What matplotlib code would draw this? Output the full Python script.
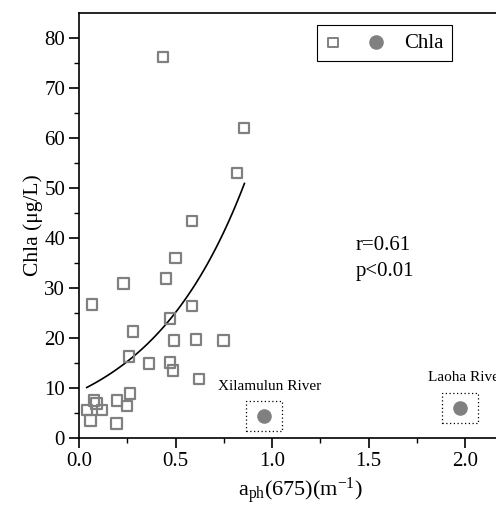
import numpy as np
import matplotlib
matplotlib.use("Agg")
import matplotlib.pyplot as plt
from matplotlib.legend_handler import HandlerTuple
from matplotlib.patches import Rectangle

plt.rcParams['font.family'] = ['Liberation Serif', 'DejaVu Serif']
plt.rcParams['mathtext.fontset'] = 'custom'
plt.rcParams['mathtext.rm'] = 'Liberation Serif'

# lake samples (open squares)
aph = [0.435, 0.855, 0.82, 0.585, 0.50, 0.45, 0.23, 0.067, 0.587, 0.47,
       0.281, 0.492, 0.606, 0.748, 0.259, 0.363, 0.47, 0.487, 0.623, 0.264,
       0.198, 0.249, 0.076, 0.09, 0.04, 0.12, 0.059, 0.195]
chla = [76.2, 62.0, 53.0, 43.4, 36.0, 31.9, 30.9, 26.7, 26.4, 23.9,
        21.3, 19.5, 19.7, 19.5, 16.3, 14.9, 15.1, 13.5, 11.8, 8.9,
        7.5, 6.4, 7.5, 6.9, 5.6, 5.6, 3.5, 2.9]

# river samples (filled circles)
river_names = ["Xilamulun River", "Laoha River"]
river_aph = [0.959, 1.974]
river_chla = [4.4, 6.1]

# exponential fit  chla = a * exp(b * aph)
fit_a, fit_b = 9.33, 1.98
fit_range = (0.04, 0.857)

gray = '#808080'

fig = plt.figure(figsize=(4.96, 5.07), dpi=100)
ax = fig.add_axes([79/496, 69/507, 444/496, 425/507])

ax.scatter(aph, chla, marker='s', s=55, facecolors='none', edgecolors=gray,
           linewidths=1.6, zorder=3)
ax.scatter(river_aph, river_chla, marker='o', s=90, color=gray, zorder=3)

xf = np.linspace(fit_range[0], fit_range[1], 100)
ax.plot(xf, fit_a * np.exp(fit_b * xf), color='black', lw=1.2, zorder=2)

# dotted boxes + labels for the rivers
for name, x, y in zip(river_names, river_aph, river_chla):
    ax.add_patch(Rectangle((x - 0.093, y - 3.0), 0.186, 6.0, fill=False,
                           ls=(0, (1, 2)), lw=0.9, color='black'))
    ax.text(x + 0.03, y + 6.0, name, ha='center', va='center', fontsize=11)

ax.text(1.435, 38.6, 'r=0.61', fontsize=15, va='center')
ax.text(1.435, 33.3, 'p<0.01', fontsize=15, va='center')

ax.set_xlim(0, 2.3)
ax.set_ylim(0, 85)
ax.set_xticks([0, 0.5, 1.0, 1.5, 2.0])
ax.set_xticks(np.arange(0.25, 2.3, 0.5), minor=True)
ax.set_yticks(range(0, 81, 10))
ax.set_yticks(range(5, 85, 10), minor=True)
ax.xaxis.set_major_formatter(matplotlib.ticker.FormatStrFormatter('%.1f'))
ax.tick_params(which='major', direction='out', length=7, width=1.2, labelsize=15, pad=3)
ax.tick_params(which='minor', direction='out', length=3.5, width=1.0)
ax.tick_params(top=False, right=False)
for s in ax.spines.values():
    s.set_linewidth(1.2)

ax.set_ylabel('Chla (μg/L)', fontsize=15.5, labelpad=1)
ax.set_xlabel(r'$\mathregular{a_{ph}(675)(m^{-1})}$', fontsize=16)
ax.xaxis.set_label_coords(221/444, -0.088)

h1 = ax.scatter([], [], marker='s', s=45, facecolors='none', edgecolors=gray, linewidths=1.4)
h2 = ax.scatter([], [], marker='o', s=90, color=gray)
leg = ax.legend([(h1, h2)], ['Chla'], handler_map={tuple: HandlerTuple(ndivide=None, pad=1.3)},
                loc='upper left', bbox_to_anchor=(238/444, 0.972), borderaxespad=0,
                fontsize=15, fancybox=False, edgecolor='black', handlelength=2.8,
                handletextpad=1.0, borderpad=0.4, framealpha=1)
leg.get_frame().set_linewidth(0.8)

fig.savefig('out.png', dpi=100)
